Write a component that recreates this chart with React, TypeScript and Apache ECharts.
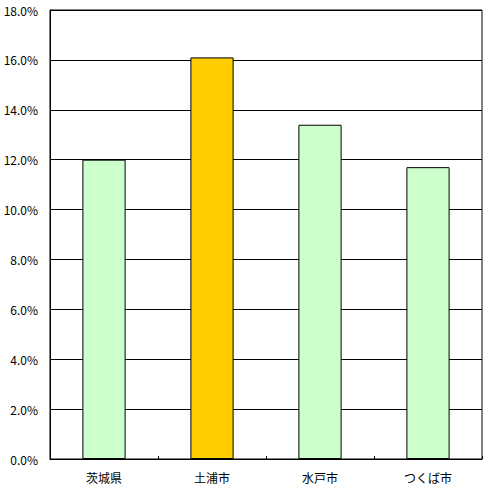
import React, { useEffect, useRef } from "react";
import * as echarts from "echarts";

const categories = ["茨城県", "土浦市", "水戸市", "つくば市"];
const values = [12.0, 16.1, 13.4, 11.7];
const barColors = ["#CCFFCC", "#FFCC00", "#CCFFCC", "#CCFFCC"];
const yMin = 0;
const yMax = 18;
const yInterval = 2;

export default function App() {
  const ref = useRef<HTMLDivElement>(null);
  useEffect(() => {
    document.body.style.margin = "0";
    const chart = echarts.init(ref.current!, null, { renderer: "svg" });
    chart.setOption({
      animation: false,
      backgroundColor: "#ffffff",
      grid: {
        left: 50,
        right: 5,
        top: 10,
        bottom: 35,
        show: true,
        borderColor: "#000",
        borderWidth: 1,
        backgroundColor: "transparent",
      },
      xAxis: {
        type: "category",
        data: categories,
        axisLine: { show: true, lineStyle: { color: "#000", width: 1 } },
        axisTick: { show: true, inside: true, length: 3, lineStyle: { color: "#000" } },
        axisLabel: {
          color: "#000",
          fontSize: 12,
          fontFamily: "Noto Sans CJK JP",
          margin: 12,
        },
        splitLine: { show: false },
      },
      yAxis: {
        type: "value",
        min: yMin,
        max: yMax,
        interval: yInterval,
        axisLine: { show: true, lineStyle: { color: "#000", width: 1 } },
        axisTick: { show: false },
        axisLabel: {
          color: "#000",
          fontSize: 12,
          fontFamily: "Noto Sans CJK JP",
          margin: 12,
          formatter: (v: number) => v.toFixed(1) + "%",
        },
        splitLine: { show: true, lineStyle: { color: "#000", width: 1 } },
      },
      series: [
        {
          type: "bar",
          barWidth: "40%",
          data: values.map((v, i) => ({
            value: v,
            itemStyle: { color: barColors[i], borderColor: "#000", borderWidth: 1 },
          })),
        },
      ],
    });
    return () => chart.dispose();
  }, []);
  return <div ref={ref} style={{ width: 487, height: 494 }} />;
}
